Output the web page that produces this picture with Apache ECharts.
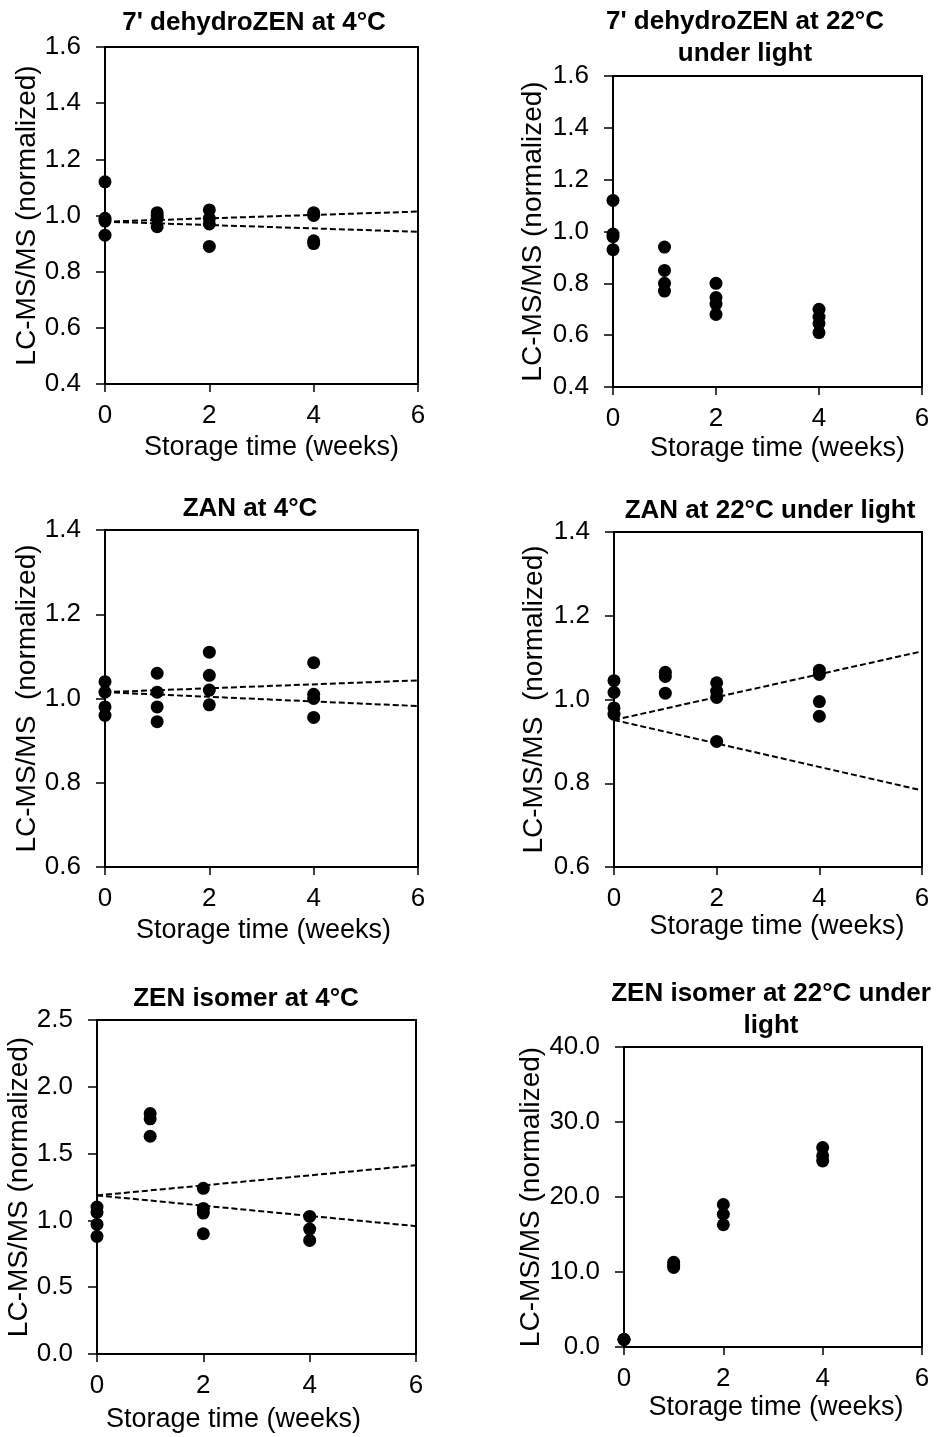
<!DOCTYPE html>
<html><head><meta charset="utf-8">
<script src="https://cdn.jsdelivr.net/npm/echarts@6/dist/echarts.min.js"></script>
<style>html,body{margin:0;padding:0;background:#fff}#c{width:939px;height:1437px}</style>
</head><body><div id="c"></div><script>
// ---- data ----
const weeks = [0, 1, 2, 4];
const fitWeeks = [0, 6];
const xTicks = [0, 6, 2];

const dehydro4C = [[1.12, 0.99, 0.98, 0.93], [1.01, 1.00, 0.99, 0.96], [1.02, 0.99, 0.97, 0.89], [1.01, 1.00, 0.91, 0.90]];
const dehydro4CUpper = [0.978, 1.014];
const dehydro4CLower = [0.978, 0.942];
const dehydro4CTicks = [0.4, 1.6, 0.2];

const dehydro22C = [[1.12, 0.99, 0.98, 0.93], [0.94, 0.85, 0.80, 0.77], [0.80, 0.745, 0.72, 0.68], [0.70, 0.67, 0.645, 0.61]];
const dehydro22CTicks = [0.4, 1.6, 0.2];

const zan4C = [[1.04, 1.015, 0.98, 0.96], [1.06, 1.015, 0.98, 0.945], [1.11, 1.055, 1.02, 0.985], [1.085, 1.01, 1.0, 0.955]];
const zan4CUpper = [1.015, 1.043];
const zan4CLower = [1.015, 0.982];
const zan4CTicks = [0.6, 1.4, 0.2];

const zan22C = [[1.045, 1.017, 0.98, 0.965], [1.065, 1.055, 1.015], [1.04, 1.02, 1.005, 0.90], [1.07, 1.06, 0.995, 0.96]];
const zan22CUpper = [0.951, 1.115];
const zan22CLower = [0.951, 0.783];
const zan22CTicks = [0.6, 1.4, 0.2];

const isomer4C = [[1.10, 1.06, 0.97, 0.88], [1.80, 1.76, 1.63], [1.24, 1.09, 1.055, 0.90], [1.03, 0.935, 0.85]];
const isomer4CUpper = [1.187, 1.412];
const isomer4CLower = [1.187, 0.957];
const isomer4CTicks = [0.0, 2.5, 0.5];

const isomer22C = [[1.0, 1.0, 1.0], [11.3, 10.9, 10.6], [19.0, 17.7, 16.3], [26.6, 25.5, 24.8]];
const isomer22CTicks = [0, 40, 10];

const titles = ["7' dehydroZEN at 4°C", "7' dehydroZEN at 22°C\nunder light", "ZAN at 4°C", "ZAN at 22°C under light", "ZEN isomer at 4°C", "ZEN isomer at 22°C under\nlight"];
const xName = 'Storage time (weeks)';
const yNames = ['LC-MS/MS (normalized)', 'LC-MS/MS (normalized)', 'LC-MS/MS  (normalized)', 'LC-MS/MS  (normalized)', 'LC-MS/MS (normalized)', 'LC-MS/MS (normalized)'];

// ---- layout ----
const FONT = 'Liberation Sans, Arial, sans-serif';
const panels = [
  { values: dehydro4C, upper: dehydro4CUpper, lower: dehydro4CLower, ticks: dehydro4CTicks, box: [105, 47, 418, 384], title: [254, 7], yGap: 64, xGap: 50, xShift: 10 },
  { values: dehydro22C, ticks: dehydro22CTicks, box: [613, 76, 922, 387], title: [745, 6], yGap: 66, xGap: 48, xShift: 10 },
  { values: zan4C, upper: zan4CUpper, lower: zan4CLower, ticks: zan4CTicks, box: [105, 530, 418, 867], title: [250, 493], yGap: 64, xGap: 50, xShift: 2 },
  { values: zan22C, upper: zan22CUpper, lower: zan22CLower, ticks: zan22CTicks, box: [614, 532, 922, 867], title: [770, 495], yGap: 66, xGap: 44, xShift: 9 },
  { values: isomer4C, upper: isomer4CUpper, lower: isomer4CLower, ticks: isomer4CTicks, box: [97, 1020, 416, 1354], title: [246, 983], yGap: 61, xGap: 52, xShift: -23 },
  { values: isomer22C, ticks: isomer22CTicks, box: [624, 1047, 922, 1347], title: [771, 978], yGap: 77, xGap: 47, xShift: 3 }
];

const option = { animation: false, title: [], grid: [], xAxis: [], yAxis: [], series: [] };

panels.forEach((p, i) => {
  const [l, t, r, b] = p.box;
  option.title.push({
    text: titles[i], left: p.title[0], top: p.title[1], textAlign: 'center', padding: 0,
    textStyle: { fontFamily: FONT, fontWeight: 'bold', fontSize: 26, lineHeight: 32, color: '#000' }
  });
  option.grid.push({ left: l, top: t, width: r - l, height: b - t, show: true, borderColor: '#000', borderWidth: 2, backgroundColor: '#fff' });
  const pad = p.xShift >= 0 ? [0, 0, 0, 2 * p.xShift] : [0, -2 * p.xShift, 0, 0];
  option.xAxis.push({
    gridIndex: i, type: 'value', min: xTicks[0], max: xTicks[1], interval: xTicks[2],
    axisLine: { show: true, onZero: false, lineStyle: { color: '#000', width: 2 } },
    axisTick: { show: true, length: 8, lineStyle: { color: '#000', width: 1.5 } },
    axisLabel: { color: '#000', fontFamily: FONT, fontSize: 26, margin: 19 },
    splitLine: { show: false },
    name: xName, nameLocation: 'middle', nameGap: p.xGap,
    nameTextStyle: { color: '#000', fontFamily: FONT, fontSize: 27, padding: pad }
  });
  option.yAxis.push({
    gridIndex: i, type: 'value', min: p.ticks[0], max: p.ticks[1], interval: p.ticks[2],
    axisLine: { show: true, onZero: false, lineStyle: { color: '#000', width: 2 } },
    axisTick: { show: true, length: 9, lineStyle: { color: '#000', width: 1.5 } },
    axisLabel: { color: '#000', fontFamily: FONT, fontSize: 26, margin: 24, formatter: v => v.toFixed(1) },
    splitLine: { show: false },
    name: yNames[i], nameLocation: 'middle', nameGap: p.yGap,
    nameTextStyle: { color: '#000', fontFamily: FONT, fontSize: 28 }
  });
  const pts = [];
  weeks.forEach((w, k) => p.values[k].forEach(v => pts.push([w, v])));
  option.series.push({
    type: 'scatter', xAxisIndex: i, yAxisIndex: i, data: pts, symbol: 'circle', symbolSize: 13,
    itemStyle: { color: '#000', opacity: 1 }, z: 3
  });
  [p.upper, p.lower].forEach(fit => {
    if (!fit) return;
    option.series.push({
      type: 'line', xAxisIndex: i, yAxisIndex: i, data: fitWeeks.map((w, k) => [w, fit[k]]),
      symbol: 'none', lineStyle: { color: '#000', width: 2, type: [6, 3] }, z: 2
    });
  });
});

const chart = echarts.init(document.getElementById('c'), null, { renderer: 'canvas' });
chart.setOption(option);
</script></body></html>
